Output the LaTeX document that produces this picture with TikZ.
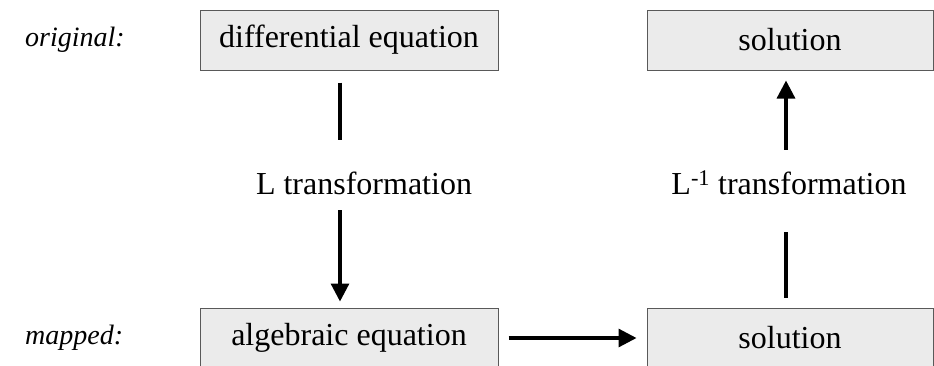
\documentclass[tikz,border=0pt]{standalone}
\usepackage{fontspec}
\setmainfont{Liberation Serif}
\usetikzlibrary{arrows.meta}

\begin{document}
\begin{tikzpicture}[x=1pt,y=-1pt,
    box/.style={draw=black!65,fill=black!8,line width=1pt,minimum width=298pt,minimum height=60pt,inner sep=0pt,font=\fontsize{32}{36}\selectfont},
    lbl/.style={inner sep=0pt,font=\fontsize{32}{36}\selectfont},
    con/.style={line width=3.2pt},
    arr/.style={line width=3.2pt,-{Triangle[length=18pt,width=18pt]}}]
    \useasboundingbox (0,0) rectangle (934,365);
    \node[box] (diffeq) at (349,40) {differential equation};
    \node[box,minimum width=286pt] (sol) at (790,40) {solution};
    \node[box] (algeq) at (349,338) {algebraic equation};
    \node[box,minimum width=286pt] (msol) at (790,338) {solution};
    \node[lbl,font=\fontsize{28}{32}\selectfont\itshape,anchor=west] (orig) at (25,40) {original:};
    \node[lbl,font=\fontsize{28}{32}\selectfont\itshape,anchor=west] (mapd) at (25,338) {mapped:};
    \node[lbl,minimum height=70pt] (ltr) at (364,183) {L transformation};
    \node[lbl,minimum height=66pt] (litr) at (789,183) {L\textsuperscript{-1} transformation};
    \coordinate (lx) at (340,0);
    \coordinate (rx) at (786,0);

    \draw[con,shorten >=8pt] ([yshift=-12pt]diffeq.south -| lx) -- (ltr.north -| lx);
    \draw[arr,shorten <=-8pt] (ltr.south -| lx) -- ([yshift=6pt]algeq.north -| lx);
    \draw[arr,shorten <=10pt,shorten >=10pt] (algeq) -- (msol);
    \draw[con,shorten >=16pt] ([yshift=10pt]msol.north -| rx) -- (litr.south -| rx);
    \draw[arr] (litr.north -| rx) -- ([yshift=-10pt]sol.south -| rx);
\end{tikzpicture}
\end{document}
